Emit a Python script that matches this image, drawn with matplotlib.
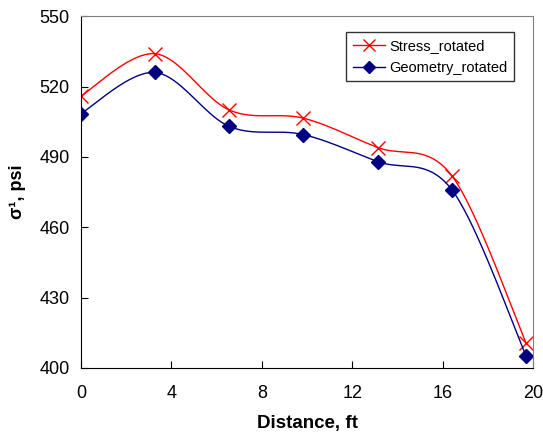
import numpy as np
import matplotlib.pyplot as plt

plt.rcParams['font.family'] = ['Liberation Sans', 'DejaVu Sans']

distance = [0, 3.28, 6.56, 9.84, 13.12, 16.4, 19.69]
stress_rotated = [516, 534, 510, 506.5, 494, 482, 410.5]
geometry_rotated = [508.5, 526, 503, 499.5, 488, 476, 405]


def smooth(x, y, n=40):
    # Bezier smoothing through every point (spreadsheet-style curve)
    x = np.asarray(x, float)
    y = np.asarray(y, float)
    px, py = [x[0]], [y[0]]
    t = np.linspace(0, 1, n)[1:]
    for i in range(len(x) - 1):
        i0 = max(i - 1, 0)
        i3 = min(i + 2, len(x) - 1)
        c1x = x[i] + (x[i + 1] - x[i0]) / 6
        c1y = y[i] + (y[i + 1] - y[i0]) / 6
        c2x = x[i + 1] - (x[i3] - x[i]) / 6
        c2y = y[i + 1] - (y[i3] - y[i]) / 6
        bx = (1 - t)**3 * x[i] + 3 * (1 - t)**2 * t * c1x + 3 * (1 - t) * t**2 * c2x + t**3 * x[i + 1]
        by = (1 - t)**3 * y[i] + 3 * (1 - t)**2 * t * c1y + 3 * (1 - t) * t**2 * c2y + t**3 * y[i + 1]
        px.extend(bx)
        py.extend(by)
    return np.array(px), np.array(py)


fig = plt.figure(figsize=(5.43, 4.38), dpi=100)
ax = fig.add_axes([0.149, 0.160, 0.833, 0.803])

sx, sy = smooth(distance, stress_rotated)
gx, gy = smooth(distance, geometry_rotated)
ax.plot(sx, sy, color='red', linewidth=1)
ax.plot(distance, stress_rotated, linestyle='none', marker='x', color='red',
        markersize=10, markeredgewidth=1)
ax.plot(gx, gy, color='navy', linewidth=1)
ax.plot(distance, geometry_rotated, linestyle='none', marker='D', color='navy',
        markersize=7)

# legend handles combining line and marker
ax.plot([], [], color='red', marker='x', markersize=9, linewidth=1, label='Stress_rotated')
ax.plot([], [], color='navy', marker='D', markersize=6, linewidth=1, label='Geometry_rotated')
ax.legend(loc='upper right', bbox_to_anchor=(0.974, 0.975), fontsize=10.5, frameon=True,
          fancybox=False, edgecolor='black', borderpad=0.45, handlelength=2.2,
          labelspacing=0.55, handletextpad=0.3)

ax.set_xlim(0, 20)
ax.set_ylim(400, 550)
ax.set_xticks([0, 4, 8, 12, 16, 20])
ax.set_yticks([400, 430, 460, 490, 520, 550])
ax.tick_params(direction='in', labelsize=13, length=5)
ax.tick_params(axis='y', pad=8)
ax.tick_params(axis='x', pad=12)
ax.spines['top'].set_color('gray')
ax.spines['right'].set_color('gray')
ax.set_xlabel('Distance, ft', fontsize=13.5, fontweight='bold', labelpad=10)
ax.set_ylabel('σ¹, psi', fontsize=13, fontweight='bold', labelpad=10)

fig.savefig('out.png', dpi=100)
